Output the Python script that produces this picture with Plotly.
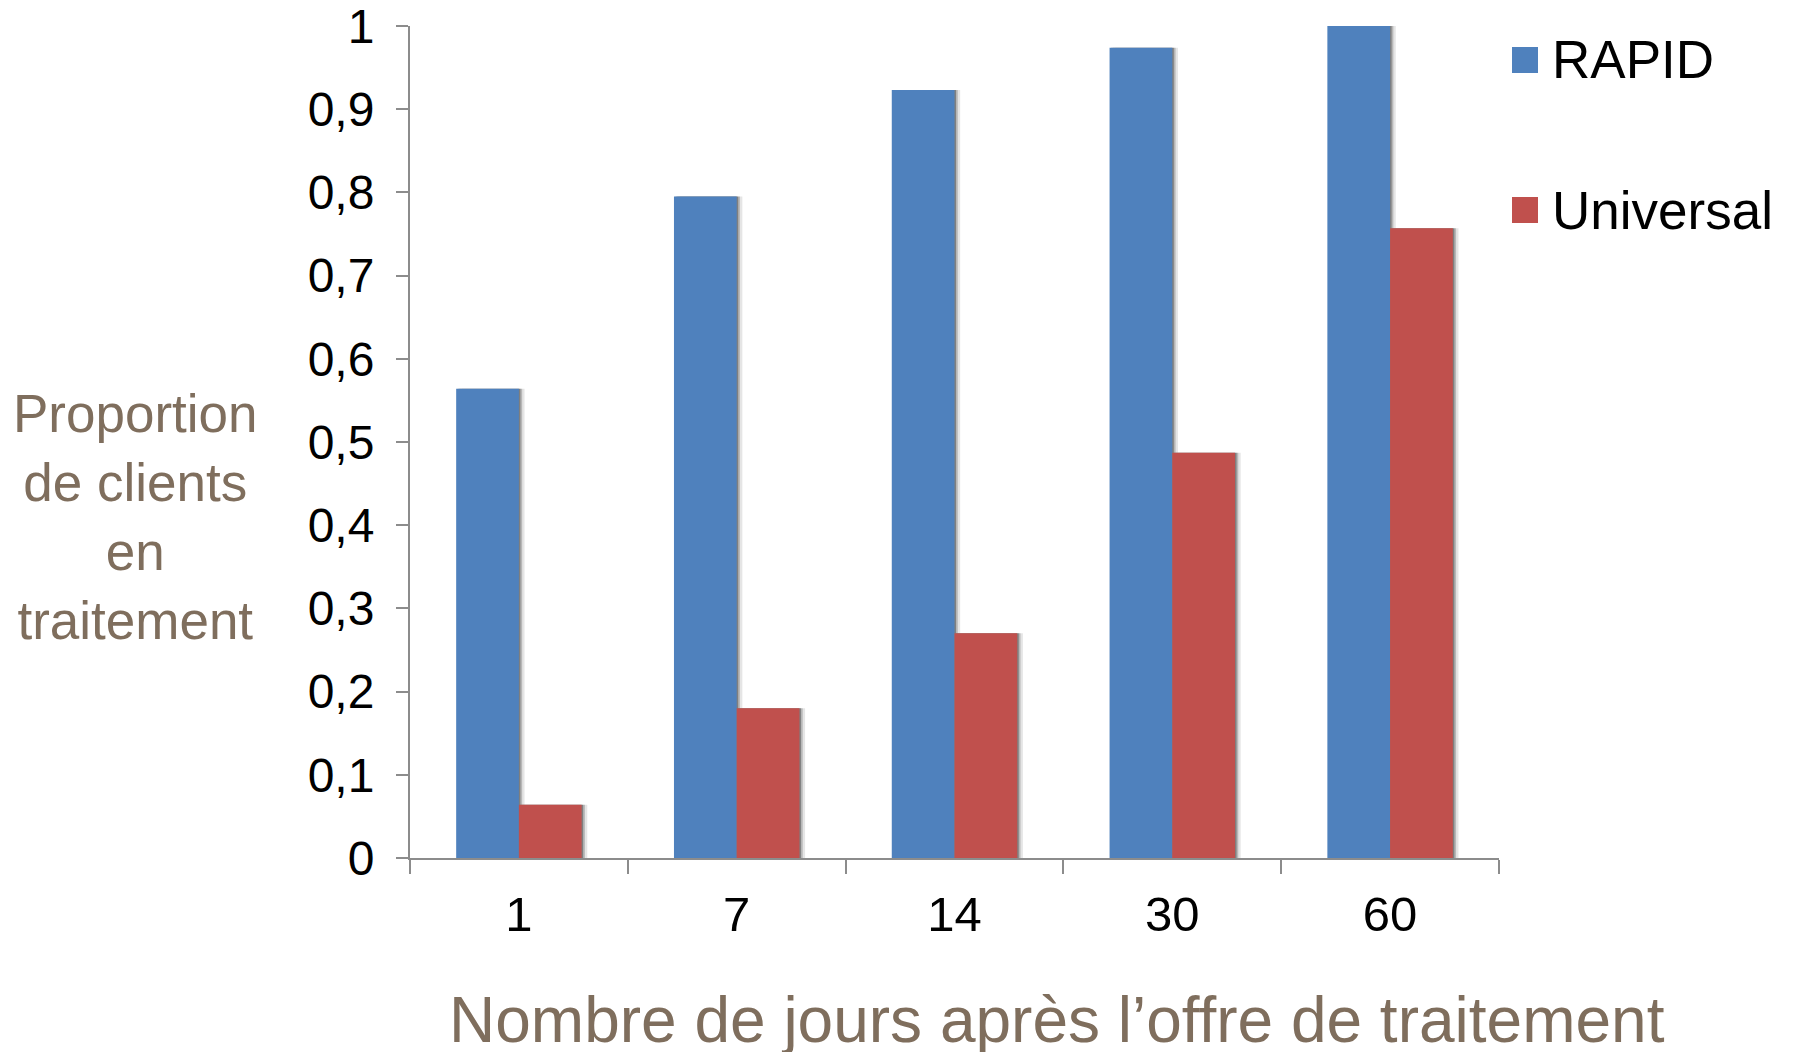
import plotly.graph_objects as go

categories = ["1", "7", "14", "30", "60"]
rapid = [0.564, 0.795, 0.923, 0.974, 1.0]
universal = [0.064, 0.180, 0.270, 0.487, 0.757]
series_names = ["RAPID", "Universal"]
colors = ["#4F81BD", "#C0504D"]
y_ticks = [0, 0.1, 0.2, 0.3, 0.4, 0.5, 0.6, 0.7, 0.8, 0.9, 1]

# page body has an 8px margin; size the figure so it fits the 1793x1060 window
OFF = 8
W, H = 1793 - 2 * OFF, 1060 - 2 * OFF
plot_left, plot_right, plot_top, plot_bottom = 410 - OFF, 1499 - OFF, 26 - OFF, 858 - OFF
L, R, T, B = plot_left, W - plot_right, plot_top, H - plot_bottom
pw, ph = plot_right - plot_left, plot_bottom - plot_top

def px_x(p):
    return (p - OFF - plot_left) / pw

def px_y(p):
    return (plot_bottom - (p - OFF)) / ph

bw = 0.288
offsets = [-0.288, 0.0]

fig = go.Figure()
# soft shadows
for vals, off in zip([rapid, universal], offsets):
    for dx, a in [(0.026, 0.10), (0.015, 0.20), (0.007, 0.30)]:
        fig.add_trace(go.Bar(x=categories, y=vals, width=bw, offset=off + dx,
                             marker=dict(color=f"rgba(0,0,0,{a})", line=dict(width=0)),
                             showlegend=False, hoverinfo="skip"))
for vals, off, name, c in zip([rapid, universal], offsets, series_names, colors):
    fig.add_trace(go.Bar(x=categories, y=vals, width=bw, offset=off, name=name,
                         marker=dict(color=c, line=dict(width=0)), showlegend=False))

font = "Liberation Sans, Arial, sans-serif"
brown = "#7F6E5D"

fig.update_layout(
    width=W, height=H,
    margin=dict(l=L, r=R, t=T, b=B, pad=0, autoexpand=False),
    paper_bgcolor="white", plot_bgcolor="white",
    barmode="overlay",
    separators=", ",
    font=dict(family=font, color="black"),
    showlegend=False,
    xaxis=dict(type="category", showgrid=False, showline=True, linecolor="#8C8C8C", linewidth=2,
               ticks="outside", tickson="boundaries", ticklen=14, tickwidth=1.5, tickcolor="#8C8C8C",
               tickfont=dict(size=49, family=font, color="black"), ticklabelstandoff=12,
               zeroline=False, automargin=False),
    yaxis=dict(range=[0, 1], tickvals=y_ticks, showgrid=False, showline=True, linecolor="#8C8C8C",
               linewidth=2, ticks="outside", ticklen=12, tickwidth=2, tickcolor="#8C8C8C",
               tickfont=dict(size=48, family=font, color="black"), ticklabelstandoff=12,
               ticklabeloverflow="allow", zeroline=False, automargin=False),
)

# axis titles
fig.add_annotation(text="Proportion<br>de clients<br>en<br>traitement", xref="paper", yref="paper",
                   x=px_x(135), y=px_y(517), xanchor="center", yanchor="middle", showarrow=False,
                   align="center", font=dict(size=53, family=font, color=brown))
fig.add_annotation(text="Nombre de jours après l’offre de traitement", xref="paper", yref="paper",
                   x=px_x(1057), y=px_y(1020), xanchor="center", yanchor="middle", showarrow=False,
                   font=dict(size=64, family=font, color=brown))

# legend
for name, c, cy in zip(series_names, colors, [60, 210]):
    fig.add_shape(type="rect", xref="paper", yref="paper",
                  x0=px_x(1512), x1=px_x(1538), y0=px_y(cy + 13), y1=px_y(cy - 13),
                  fillcolor=c, line=dict(width=0))
    fig.add_annotation(text=name, xref="paper", yref="paper", x=px_x(1550), y=px_y(cy),
                       xanchor="left", yanchor="middle", showarrow=False,
                       font=dict(size=53, family=font, color="black"))

fig.write_html("out.html")
